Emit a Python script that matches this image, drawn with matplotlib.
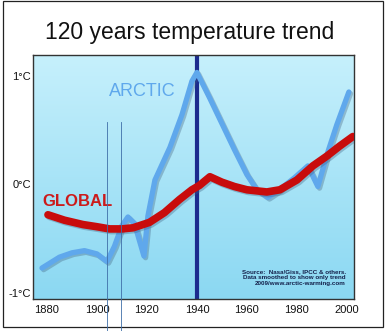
import numpy as np
import matplotlib
matplotlib.use("Agg")
import matplotlib.pyplot as plt
import matplotlib.patheffects as pe
from matplotlib.lines import Line2D
from matplotlib.patches import Rectangle

plt.rcParams['font.family'] = ['Liberation Sans', 'DejaVu Sans']

# data (smoothed curves)
arctic_years = [1878, 1885, 1890, 1895, 1900, 1904, 1907, 1910, 1912.4, 1915,
                1918.8, 1920.4, 1923.2, 1929.2, 1934, 1938, 1940, 1945, 1950,
                1955, 1960, 1964, 1968.4, 1973, 1979, 1984.4, 1988.4, 1992,
                1996, 2000.8]
arctic_vals = [-0.77, -0.67, -0.63, -0.61, -0.64, -0.71, -0.57, -0.38, -0.30, -0.36,
               -0.66, -0.29, 0.04, 0.34, 0.64, 0.95, 1.03, 0.80, 0.56,
               0.32, 0.09, -0.05, -0.12, -0.05, 0.06, 0.17, -0.02, 0.27,
               0.55, 0.85]

global_years = [1880.4, 1887, 1894.4, 1900, 1905, 1910, 1914.4, 1921, 1927, 1933,
                1938, 1941, 1945.2, 1950, 1955, 1960, 1968, 1973.2, 1980,
                1986.4, 1992, 1997, 2002.4]
global_vals = [-0.28, -0.33, -0.37, -0.39, -0.41, -0.41, -0.40, -0.35, -0.26, -0.14,
               -0.05, -0.01, 0.07, 0.02, -0.02, -0.05, -0.07, -0.05, 0.04,
               0.17, 0.26, 0.35, 0.44]

x_ticks = [1880, 1900, 1920, 1940, 1960, 1980, 2000]
y_ticks = [-1, 0, 1]
y_labels = ['-1°C', '0°C', '1°C']
marker_year = 1940

fig = plt.figure(figsize=(3.88, 3.31), dpi=100)
fig.patch.set_facecolor('white')
fig.patches.append(Rectangle((3 / 388, 4 / 331), 380 / 388, 326 / 331,
                             transform=fig.transFigure, fill=False,
                             edgecolor='#222222', linewidth=0.9))

ax = fig.add_axes([0.085, 0.0967, 0.827, 0.737])
xlim = (1874.4, 2002.8)
ylim = (-1.055, 1.19)
ax.set_xlim(*xlim)
ax.set_ylim(*ylim)

# background gradient
grad = np.linspace(0, 1, 256).reshape(-1, 1)
cmap = matplotlib.colors.LinearSegmentedColormap.from_list('bg', ['#8bd8f2', '#c6f0fc'])
ax.imshow(grad, extent=[xlim[0], xlim[1], ylim[0], ylim[1]], origin='lower',
          aspect='auto', cmap=cmap, zorder=0)

ax.axvline(marker_year, color='#1c2b8e', linewidth=3.0, zorder=2)

shadow = [pe.SimpleLineShadow(offset=(1.2, -1.2), shadow_color='#406080', alpha=0.35), pe.Normal()]
ax.plot(arctic_years, arctic_vals, color='#5fa8ec', linewidth=3.8,
        solid_capstyle='round', solid_joinstyle='round', zorder=3, path_effects=shadow)
ax.plot(global_years, global_vals, color='#c80c0c', linewidth=5.5,
        solid_capstyle='round', solid_joinstyle='round', zorder=4, path_effects=shadow)

ax.text(1918.2, 0.85, 'ARCTIC', color='#5fa8ec', fontsize=13, ha='center', va='center')
ax.text(1892.4, -0.155, 'GLOBAL', color='#cc1a1a', fontsize=12, fontweight='bold',
        ha='center', va='center')
ax.text(1999.6, -0.86, 'Source:  Nasa/Giss, IPCC & others.\nData smoothed to show only trend\n2009/www.arctic-warming.com',
        fontsize=4.5, fontweight='bold', color='#14204a', ha='right', va='center',
        linespacing=1.2)

ax.set_xticks(x_ticks)
ax.set_yticks(y_ticks)
ax.set_yticklabels(y_labels)
ax.tick_params(length=0, labelsize=8, colors='#111111')
ax.tick_params(axis='y', pad=1.5)
ax.tick_params(axis='x', pad=4)
for s in ax.spines.values():
    s.set_color('#333333')
    s.set_linewidth(1.0)

fig.text(190 / 388, 1 - 33 / 331, '120 years temperature trend', fontsize=16.5,
         ha='center', va='center', color='#111111')

# two thin vertical lines crossing the chart
for px in [106.7, 121]:
    fig.lines.append(Line2D([px / 388, px / 388], [0, 1 - 122 / 331],
                            transform=fig.transFigure, color='#3f6fa8', linewidth=0.6))

fig.savefig('out.png', dpi=100)
